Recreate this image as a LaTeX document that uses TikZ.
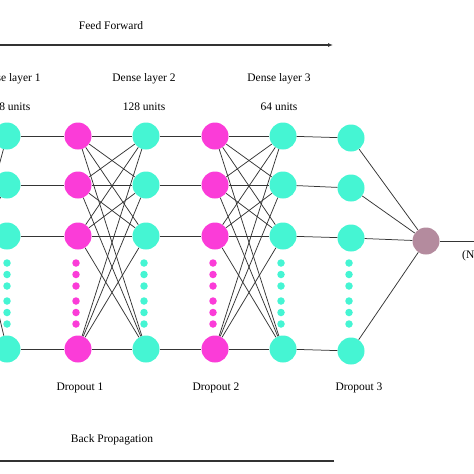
\documentclass[tikz,border=0pt]{standalone}
\usepackage{fontspec}
\setmainfont{Liberation Serif}
\usetikzlibrary{arrows.meta}
\definecolor{cyanN}{HTML}{45F5D3}
\definecolor{magN}{HTML}{FB3CD8}
\definecolor{outN}{HTML}{B48B9E}
\definecolor{edgeC}{HTML}{353535}
\tikzset{
  x=1pt, y=-1pt,
  neuron/.style={circle, inner sep=0pt, minimum size=27pt},
  cy/.style={neuron, fill=cyanN},
  mg/.style={neuron, fill=magN},
  outn/.style={neuron, fill=outN},
  dotcy/.style={circle, inner sep=0pt, minimum size=7.5pt, fill=cyanN},
  dotmg/.style={circle, inner sep=0pt, minimum size=7.5pt, fill=magN},
  edge/.style={draw=edgeC, line width=0.75pt},
  lbl/.style={font=\fontsize{11.5}{13}\selectfont, inner sep=0pt, text=black},
  bigline/.style={draw=black!80, line width=1.3pt}
}
\begin{document}
\begin{tikzpicture}
\useasboundingbox (0,0) rectangle (474,474);
\fill[white] (0,0) rectangle (474,474);
\clip (0,0) rectangle (474,474);

% labels
\node[lbl] (ff) at (111,26) {Feed Forward};
\coordinate (ffa) at (-40,45);
\coordinate (ffb) at (333,45);
\draw[bigline, -{Latex[length=5pt,width=4pt]}] (ffa) -- (ffb);

\node[lbl] (d1) at (9,79) {Dense layer 1};
\node[lbl] (d2) at (144,79) {Dense layer 2};
\node[lbl] (d3) at (279,79) {Dense layer 3};
\node[lbl] (u1) at (9,107) {128 units};
\node[lbl] (u2) at (144,107) {128 units};
\node[lbl] (u3) at (279,107) {64 units};

\node[lbl] (p1) at (80,388) {Dropout 1};
\node[lbl] (p2) at (216,388) {Dropout 2};
\node[lbl] (p3) at (359,388) {Dropout 3};

\node[lbl] (bp) at (112,440) {Back Propagation};
\coordinate (bpa) at (334,461);
\coordinate (bpb) at (-40,461);
\draw[bigline] (bpa) -- (bpb);

% neurons
\foreach \c/\x/\s in {1/7/cy,2/78/mg,3/146/cy,4/215/mg,5/283/cy}{
  \node[\s] (n\c1) at (\x,136) {};
  \node[\s] (n\c2) at (\x,185) {};
  \node[\s] (n\c3) at (\x,236) {};
  \node[\s] (n\c4) at (\x,349) {};
}
\node[cy] (n61) at (351,138) {};
\node[cy] (n62) at (351,188) {};
\node[cy] (n63) at (351,238) {};
\node[cy] (n64) at (351,351) {};
\node[outn] (out) at (426,241) {};

% dots
\foreach \c/\x/\s in {1/7/dotcy,2/76/dotmg,3/144/dotcy,4/213/dotmg,5/281/dotcy,6/349/dotcy}{
  \foreach \k/\y in {1/262,2/273.5,3/285,4/300,5/311.5,6/323}{
    \node[\s] (dt\c\k) at (\x,\y+1) {};
  }
}

% input edges (from off-canvas)
\coordinate (inp) at (-20,236);
\foreach \r in {1,2,4}{ \draw[edge] (inp) -- (n1\r); }

% one-to-one edges
\foreach \r in {1,2,3,4}{
  \draw[edge] (n1\r) -- (n2\r);
  \draw[edge] (n3\r) -- (n4\r);
  \draw[edge] (n5\r) -- (n6\r);
  \draw[edge] (n6\r) -- (out);
}
% full edges
\foreach \a in {1,2,3,4}{
  \foreach \b in {1,2,3,4}{
    \ifnum\a=\b\else
      \draw[edge] (n2\a) -- (n3\b);
      \draw[edge] (n4\a) -- (n5\b);
    \fi
  }
}
\foreach \r in {1,2,3,4}{
  \draw[edge] (n2\r) -- (n3\r);
  \draw[edge] (n4\r) -- (n5\r);
}

% output
\coordinate (outend) at (480,241);
\draw[edge] (out) -- (outend);
\node[lbl, anchor=west] (otxt) at (462,256) {(N};
\end{tikzpicture}
\end{document}
